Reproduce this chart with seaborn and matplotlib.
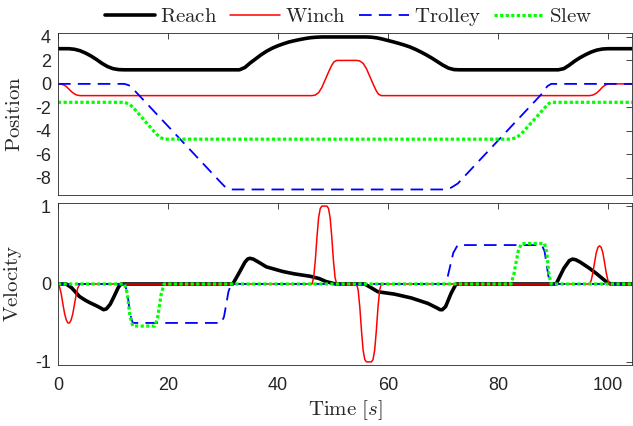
import matplotlib
matplotlib.use("Agg")
import matplotlib.pyplot as plt
import seaborn as sns
import pandas as pd

# ---- series data: (time [s], value) ----
reach_pos_t = [0, 2, 3, 4, 5, 6, 7, 8, 9, 10, 11, 12, 33, 34, 35, 36, 37, 38, 39, 40,
               41, 42, 43, 44, 45, 46, 47, 48, 56, 57, 58, 59, 60, 61, 62, 63, 64, 65,
               66, 67, 68, 69, 70, 71, 72, 73, 91, 92, 93, 94, 95, 96, 97, 98, 99, 100, 104.4]
reach_pos_v = [3.0, 3.0, 2.95, 2.83, 2.63, 2.38, 2.08, 1.75, 1.48, 1.3, 1.22, 1.2, 1.2, 1.4,
               1.8, 2.15, 2.5, 2.8, 3.05, 3.25, 3.42, 3.57, 3.68, 3.78, 3.87, 3.94, 3.98,
               4.0, 4.0, 3.98, 3.92, 3.82, 3.7, 3.58, 3.45, 3.31, 3.15, 2.95, 2.72, 2.47,
               2.2, 1.9, 1.6, 1.35, 1.22, 1.2, 1.2, 1.3, 1.6, 1.95, 2.25, 2.5, 2.72, 2.88,
               2.97, 3.0, 3.0]

winch_pos_t = [0, 0.5, 1.0, 1.5, 2.0, 2.5, 3.0, 3.5, 4.0,
               46.2, 46.8, 47.4, 48.0, 48.6, 49.2, 49.8, 50.2, 50.7,
               54.3, 54.9, 55.5, 56.1, 56.7, 57.3, 57.9, 58.3, 58.8,
               96.7, 97.3, 97.9, 98.5, 99.1, 99.7, 100.3, 104.4]
winch_pos_v = [0.0, -0.01, -0.08, -0.22, -0.45, -0.68, -0.86, -0.96, -1.0,
               -1.0, -0.95, -0.75, -0.3, 0.35, 1.0, 1.6, 1.88, 2.0,
               2.0, 1.95, 1.75, 1.3, 0.65, 0.0, -0.6, -0.88, -1.0,
               -1.0, -0.95, -0.8, -0.55, -0.25, -0.06, 0.0, 0.0]

trolley_pos_t = [0, 12.1, 12.9, 13.6, 29.7, 30.6, 31.5, 70.3, 71.5, 72.7, 88.0, 89.0, 89.7, 104.4]
trolley_pos_v = [0.0, 0.0, -0.12, -0.4, -8.45, -8.88, -9.0, -9.0, -8.85, -8.5, -0.85, -0.2, 0.0, 0.0]

slew_pos_t = [0, 12.1, 12.9, 13.6, 17.6, 18.5, 19.3, 82.4, 83.4, 84.3, 88.5, 89.2, 89.7, 104.4]
slew_pos_v = [-1.571, -1.571, -1.72, -1.97, -4.13, -4.55, -4.712, -4.712, -4.57, -4.25,
              -2.05, -1.7, -1.571, -1.571]

reach_vel_t = [0, 1.5, 2.5, 3.9, 5.0, 5.8, 7.0, 7.8, 8.3, 8.8, 9.5, 10.2, 11.0, 11.5,
               31.8, 33.0, 34.0, 34.5, 34.9, 35.5, 36.5, 37.9, 40.9, 43.0, 45.8, 47.5, 48.8,
               50.5, 55.8, 57.0, 58.2, 61.2, 64.3, 67.3, 69.0, 69.5, 69.9, 70.5, 71.5, 72.4,
               90.6, 92.0, 93.0, 93.6, 94.2, 95.0, 96.7, 98.0, 99.7, 100.5, 104.4]
reach_vel_v = [0.0, 0.0, -0.05, -0.16, -0.21, -0.24, -0.28, -0.31, -0.33, -0.32, -0.26,
               -0.16, -0.04, 0.0, 0.0, 0.15, 0.28, 0.32, 0.33, 0.32, 0.28, 0.22, 0.16, 0.13,
               0.1, 0.07, 0.03, 0.0, 0.0, -0.05, -0.1, -0.13, -0.18, -0.25, -0.31, -0.33,
               -0.33, -0.29, -0.12, 0.0, 0.0, 0.2, 0.3, 0.32, 0.31, 0.28, 0.2, 0.13, 0.03,
               0.0, 0.0]

winch_vel_t = [0, 0.3, 0.6, 0.9, 1.2, 1.5, 1.8, 2.1, 2.4, 2.7, 3.0, 3.3, 3.6, 3.9, 4.1,
               46.2, 46.5, 46.8, 47.1, 47.4, 47.7, 48.0, 48.9, 49.2, 49.5, 49.8, 50.1, 50.4, 50.7,
               54.3, 54.6, 54.9, 55.2, 55.5, 55.8, 56.1, 57.0, 57.3, 57.6, 57.9, 58.2, 58.5, 58.8,
               96.7, 97.0, 97.3, 97.6, 97.9, 98.2, 98.5, 98.8, 99.1, 99.4, 99.7, 100.0, 100.3,
               104.4]
winch_vel_v = [0.0, -0.04, -0.13, -0.26, -0.38, -0.46, -0.5, -0.5, -0.46, -0.38, -0.26,
               -0.14, -0.05, -0.01, 0.0,
               0.0, 0.08, 0.3, 0.6, 0.85, 0.97, 1.0, 1.0, 0.97, 0.85, 0.6, 0.3, 0.08, 0.0,
               0.0, -0.08, -0.3, -0.6, -0.85, -0.97, -1.0, -1.0, -0.97, -0.85, -0.6, -0.3,
               -0.08, 0.0,
               0.0, 0.05, 0.15, 0.28, 0.4, 0.47, 0.49, 0.47, 0.4, 0.28, 0.15, 0.05, 0.0, 0.0]

trolley_vel_t = [0, 12.1, 12.6, 13.1, 13.6, 29.7, 30.2, 31.0, 31.5, 70.3, 70.9, 71.9, 72.7,
                 88.0, 88.5, 89.2, 89.7, 104.4]
trolley_vel_v = [0.0, 0.0, -0.1, -0.38, -0.5, -0.5, -0.42, -0.1, 0.0, 0.0, 0.1, 0.4, 0.5,
                 0.5, 0.42, 0.1, 0.0, 0.0]

slew_vel_t = [0, 12.1, 12.6, 13.1, 13.6, 17.6, 18.1, 18.8, 19.3, 82.4, 82.9, 83.7, 84.3,
              88.5, 88.9, 89.3, 89.7, 104.4]
slew_vel_v = [0.0, 0.0, -0.12, -0.42, -0.54, -0.54, -0.44, -0.12, 0.0, 0.0, 0.12, 0.42,
              0.52, 0.52, 0.4, 0.12, 0.0, 0.0]

legend_labels = ["Reach", "Winch", "Trolley", "Slew"]
pos_ticks = [-8, -6, -4, -2, 0, 2, 4]
vel_ticks = [-1, 0, 1]
time_ticks = [0, 20, 40, 60, 80, 100]

# ---- styling ----
sns.set_theme(style="white")
plt.rcParams.update({
    "font.family": ["Liberation Sans", "DejaVu Sans"],
    "mathtext.fontset": "cm",
    "axes.unicode_minus": False,
    "axes.edgecolor": "#262626",
    "axes.linewidth": 0.6,
    "xtick.color": "#262626",
    "ytick.color": "#262626",
})

line_styles = {
    "Reach": dict(color="black", linewidth=2.6, linestyle="-"),
    "Winch": dict(color="#ff0000", linewidth=1.1, linestyle="-"),
    "Trolley": dict(color="#0000ff", linewidth=1.3, linestyle=(0, (7, 4))),
    "Slew": dict(color="#00ff00", linewidth=2.3, linestyle=(0, (1.0, 0.75))),
}

fig = plt.figure(figsize=(6.33, 4.26), dpi=100)
ax1 = fig.add_axes([0.0916, 0.5423, 0.9068, 0.3803])
ax2 = fig.add_axes([0.0916, 0.1432, 0.9068, 0.3803])

pos_series = [(reach_pos_t, reach_pos_v), (winch_pos_t, winch_pos_v),
              (trolley_pos_t, trolley_pos_v), (slew_pos_t, slew_pos_v)]
vel_series = [(reach_vel_t, reach_vel_v), (winch_vel_t, winch_vel_v),
              (trolley_vel_t, trolley_vel_v), (slew_vel_t, slew_vel_v)]

for ax, series in ((ax1, pos_series), (ax2, vel_series)):
    for name, (t, v) in zip(legend_labels, series):
        df = pd.DataFrame({"t": t, "v": v})
        sns.lineplot(data=df, x="t", y="v", ax=ax, estimator=None, sort=False,
                     label=r"$\mathrm{%s}$" % name, dash_capstyle="butt",
                     solid_joinstyle="round", **line_styles[name])
    leg = ax.get_legend()
    if leg is not None:
        leg.remove()

for ax in (ax1, ax2):
    ax.set_xlim(0, 104.4)
    ax.set_xticks(time_ticks)
    ax.tick_params(direction="in", length=4, width=0.6, top=True, right=True,
                   labelsize=13, pad=5)
    for s in ax.spines.values():
        s.set_visible(True)

ax1.set_ylim(-9.47, 4.34)
ax1.set_yticks(pos_ticks)
ax1.tick_params(labelbottom=False)
ax1.set_xlabel("")
ax1.set_ylabel(r"$\mathrm{Position}$", fontsize=15, color="#262626")
ax1.yaxis.set_label_coords(-0.06, 0.5)

ax2.set_ylim(-1.04, 1.04)
ax2.set_yticks(vel_ticks)
ax2.tick_params(axis="x", pad=9)
ax2.set_xlabel(r"$\mathrm{Time}\ [s]$", fontsize=15, color="#262626", labelpad=3)
ax2.set_ylabel(r"$\mathrm{Velocity}$", fontsize=15, color="#262626")
ax2.yaxis.set_label_coords(-0.06, 0.5)

handles, labels = ax1.get_legend_handles_labels()
fig.legend(handles, labels, loc="center", bbox_to_anchor=(0.5506, 0.960), ncol=4,
           frameon=False, fontsize=15, handlelength=2.4, handletextpad=0.25,
           columnspacing=0.6, borderpad=0.0, labelcolor="#262626")

fig.savefig("out.png", dpi=100, facecolor="white")
